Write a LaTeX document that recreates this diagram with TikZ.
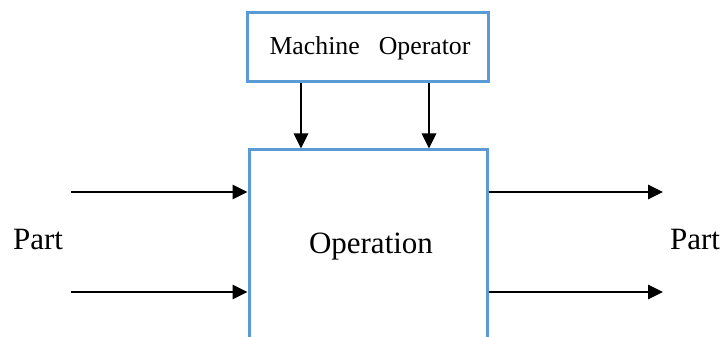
\documentclass[tikz,border=0pt]{standalone}
\usepackage{fontspec}
\setmainfont{Liberation Serif}
\usetikzlibrary{arrows.meta}
\definecolor{boxblue}{HTML}{5B9BD5}
\begin{document}
\begin{tikzpicture}[x=1pt,y=-1pt,
  blockbox/.style={draw=boxblue,line width=3pt,fill=white,inner sep=0pt},
  flow/.style={line width=2.8pt,-{Triangle[length=15pt,width=14pt]}},
  lbl/.style={inner sep=0pt,anchor=base,font=\fontsize{31}{36}\selectfont}]
\useasboundingbox (0,0) rectangle (724,337);
\clip (0,0) rectangle (724,337);
% resource box on top
\node[blockbox,minimum width=241pt,minimum height=69pt] (mo) at (367.5,47.5) {};
\node[inner sep=0pt,anchor=base,font=\fontsize{25.8}{30}\selectfont] (motext) at (370,55)
  {Machine\hspace{19pt}Operator};
% operation box (runs past the lower edge)
\node[blockbox,minimum width=238pt,minimum height=220pt] (op) at (368,260) {};
\node[lbl] (optext) at (371,253) {Operation};
% labels for the flowing part
\node[lbl] (pin) at (38,249) {Part};
\node[lbl] (pout) at (695,249) {Part};
% resource inputs
\coordinate (c1) at (301,0);
\coordinate (c2) at (429,0);
\draw[flow] (mo.south -| c1) -- (op.north -| c1);
\draw[flow] (mo.south -| c2) -- (op.north -| c2);
% part inputs and outputs
\coordinate (l1) at (71,192);
\coordinate (l2) at (71,292);
\coordinate (r1) at (663,192);
\coordinate (r2) at (663,292);
\draw[flow] (l1) -- (l1 -| op.west);
\draw[flow] (l2) -- (l2 -| op.west);
\draw[flow] (r1 -| op.east) -- (r1);
\draw[flow] (r2 -| op.east) -- (r2);
\end{tikzpicture}
\end{document}
